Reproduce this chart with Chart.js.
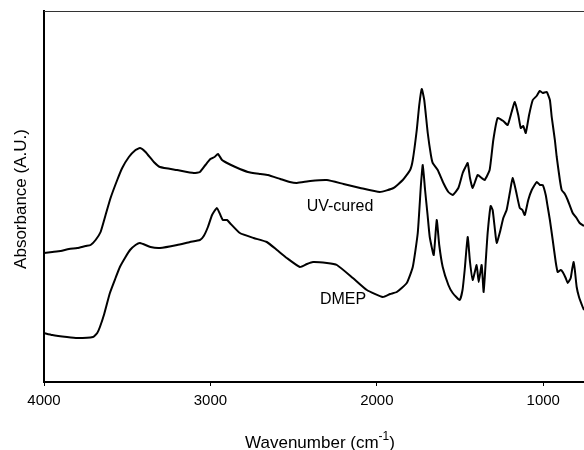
<!DOCTYPE html>
<html>
<head>
<meta charset="utf-8">
<script src="https://cdn.jsdelivr.net/npm/chart.js@4/dist/chart.umd.min.js"></script>
<style>
  html, body { margin: 0; padding: 0; background: #fff; }
  #c { display: block; }
</style>
</head>
<body>
<canvas id="c" width="584" height="450"></canvas>
<script>
// wavenumbers (cm-1) and absorbance (arbitrary units)
const uvWave = [4000, 3950, 3900, 3850, 3800, 3750, 3720, 3690, 3660, 3630, 3600, 3560, 3530, 3490, 3450, 3423, 3390, 3340, 3303, 3200, 3100, 3063, 3030, 3000, 2975, 2955, 2930, 2900, 2850, 2775, 2700, 2655, 2580, 2523, 2480, 2400, 2300, 2200, 2100, 1982, 1900, 1844, 1800, 1784, 1760, 1745, 1730, 1715, 1694, 1675, 1664, 1634, 1600, 1570, 1544, 1510, 1484, 1470, 1454, 1440, 1424, 1394, 1370, 1352, 1322, 1300, 1274, 1240, 1214, 1190, 1171, 1150, 1135, 1120, 1105, 1085, 1063, 1040, 1021, 1003, 979, 960, 949, 930, 919, 900, 889, 870, 853, 823, 800, 781, 755];
const uvAbs  = [129, 130, 131, 133, 134, 136, 137, 142, 150, 167, 184, 202, 214, 225, 232, 234, 230, 220, 215, 212, 209, 210, 217, 223, 225, 228, 222, 219, 215, 210, 208, 207, 203, 200, 199, 201, 202, 198, 194, 190, 194, 202, 212, 222, 252, 277, 293, 282, 249, 227, 219, 212, 199, 190, 187, 194, 209, 214, 219, 204, 194, 207, 204, 202, 212, 242, 264, 261, 257, 270, 280, 267, 254, 256, 249, 267, 282, 286, 291, 289, 290, 282, 265, 242, 225, 202, 192, 188, 182, 169, 164, 159, 156];

const dmepWave = [4000, 3950, 3862, 3800, 3706, 3680, 3664, 3640, 3604, 3570, 3544, 3510, 3483, 3450, 3423, 3360, 3303, 3200, 3123, 3063, 3040, 3015, 2990, 2961, 2940, 2925, 2900, 2883, 2823, 2740, 2661, 2600, 2541, 2462, 2420, 2384, 2300, 2240, 2144, 2060, 1964, 1920, 1880, 1820, 1784, 1754, 1735, 1724, 1710, 1695, 1682, 1658, 1640, 1625, 1604, 1570, 1544, 1502, 1485, 1472, 1454, 1440, 1424, 1400, 1388, 1370, 1358, 1345, 1334, 1316, 1304, 1290, 1280, 1260, 1240, 1220, 1200, 1184, 1165, 1141, 1125, 1111, 1090, 1069, 1039, 1020, 1003, 985, 973, 960, 943, 925, 913, 895, 883, 865, 853, 835, 825, 817, 810, 799, 785, 763, 755];
const dmepAbs  = [49, 47, 45, 44, 45, 49, 55, 67, 89, 104, 115, 125, 132, 137, 139, 135, 134, 137, 140, 142, 146, 155, 167, 174, 167, 162, 162, 159, 149, 144, 140, 132, 124, 115, 118, 120, 119, 117, 104, 92, 85, 88, 90, 99, 115, 149, 197, 217, 192, 167, 145, 127, 162, 137, 115, 97, 89, 82, 92, 112, 145, 120, 102, 117, 100, 117, 90, 122, 149, 176, 172, 152, 139, 150, 164, 172, 190, 204, 192, 174, 172, 167, 182, 192, 200, 197, 197, 187, 175, 162, 142, 120, 110, 112, 110, 104, 99, 104, 114, 120, 112, 95, 85, 75, 72];

const xTicks = [4000, 3000, 2000, 1000];
const seriesNames = ['UV-cured', 'DMEP'];

const FONT = 'Arial, "Liberation Sans", sans-serif';

const toPoints = (xs, ys) => xs.map((x, i) => ({ x, y: ys[i] }));

const annotations = {
  id: 'annotations',
  afterDraw(chart) {
    const { ctx, chartArea, scales } = chart;
    ctx.save();
    // thin top frame line
    ctx.strokeStyle = '#333';
    ctx.lineWidth = 1;
    ctx.beginPath();
    ctx.moveTo(chartArea.left, chartArea.top + 0.5);
    ctx.lineTo(chartArea.right, chartArea.top + 0.5);
    ctx.stroke();

    ctx.fillStyle = '#000';
    ctx.textAlign = 'center';
    ctx.textBaseline = 'middle';
    ctx.font = '16px ' + FONT;
    ctx.fillText(seriesNames[0], scales.x.getPixelForValue(2221), scales.y.getPixelForValue(175));
    ctx.fillText(seriesNames[1], scales.x.getPixelForValue(2203), scales.y.getPixelForValue(82));

    // y title
    ctx.save();
    ctx.translate(21, 199);
    ctx.rotate(-Math.PI / 2);
    ctx.font = '17px ' + FONT;
    ctx.fillText('Absorbance (A.U.)', 0, 0);
    ctx.restore();

    // x title with superscript
    ctx.textBaseline = 'alphabetic';
    ctx.textAlign = 'left';
    const main = 'Wavenumber (cm';
    const sup = '-1';
    const end = ')';
    ctx.font = '17px ' + FONT;
    const wMain = ctx.measureText(main).width;
    const wEnd = ctx.measureText(end).width;
    ctx.font = '12px ' + FONT;
    const wSup = ctx.measureText(sup).width;
    let x = 320 - (wMain + wSup + wEnd) / 2;
    const base = 448;
    ctx.font = '17px ' + FONT;
    ctx.fillText(main, x, base);
    x += wMain;
    ctx.font = '12px ' + FONT;
    ctx.fillText(sup, x, base - 8);
    x += wSup;
    ctx.font = '17px ' + FONT;
    ctx.fillText(end, x, base);
    ctx.restore();
  }
};

new Chart(document.getElementById('c'), {
  type: 'line',
  data: {
    datasets: [
      { label: seriesNames[0], data: toPoints(uvWave, uvAbs) },
      { label: seriesNames[1], data: toPoints(dmepWave, dmepAbs) }
    ]
  },
  options: {
    responsive: false,
    animation: false,
    layout: { padding: { top: 11, right: 0, left: 0, bottom: 0 } },
    elements: {
      point: { radius: 0 },
      line: { borderColor: '#000', borderWidth: 2, tension: 0.15 }
    },
    plugins: { legend: { display: false }, tooltip: { enabled: false } },
    scales: {
      x: {
        type: 'linear',
        reverse: true,
        min: 755,
        max: 4000,
        afterFit: s => { s.height = 68; },
        afterBuildTicks: s => { s.ticks = xTicks.map(v => ({ value: v })); },
        border: { color: '#000', width: 2 },
        grid: { display: true, drawOnChartArea: false, drawTicks: true, tickLength: 4, color: '#000', lineWidth: 1 },
        ticks: { color: '#000', font: { family: FONT, size: 15 }, padding: 6, maxRotation: 0, callback: v => String(v) }
      },
      y: {
        min: 0,
        max: 371,
        afterFit: s => { s.width = 44; },
        border: { color: '#000', width: 2 },
        grid: { display: false },
        ticks: { display: false }
      }
    }
  },
  plugins: [annotations]
});
</script>
</body>
</html>
